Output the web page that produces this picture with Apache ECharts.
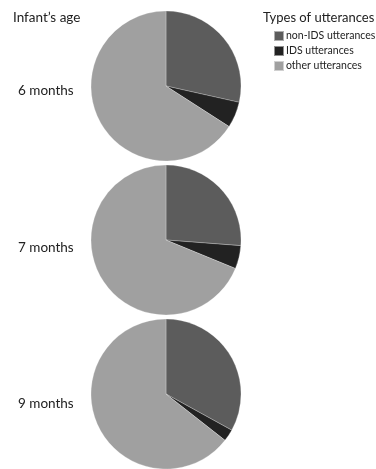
<!DOCTYPE html>
<html><head><meta charset="utf-8">
<script src="https://cdn.jsdelivr.net/npm/echarts@6/dist/echarts.min.js"></script>
<style>html,body{margin:0;padding:0;background:#fff}#c{width:376px;height:469px}</style>
</head><body><div id="c"></div>
<script>
const categories = ['non-IDS utterances', 'IDS utterances', 'other utterances'];
const ages = ['6 months', '7 months', '9 months'];
const pct6 = [28.5, 5.6, 65.9];
const pct7 = [26.2, 5.0, 68.8];
const pct9 = [33.0, 2.6, 64.4];
const colors = ['#5c5c5c', '#222222', '#a0a0a0'];

const allData = [pct6, pct7, pct9];
const centersY = [86, 240, 394];
const labelY = [92, 249, 405];
const font = 'Lato';

const chart = echarts.init(document.getElementById('c'), null, {renderer: 'canvas'});
chart.setOption({
  animation: false,
  color: colors,
  textStyle: {fontFamily: font},
  title: [
    {text: "Infant\u2019s age", left: 8, top: 6, textStyle: {fontFamily: font, fontSize: 13.5, fontWeight: 'normal', color: '#222'}},
    {text: 'Types of utterances', left: 258, top: 6, textStyle: {fontFamily: font, fontSize: 13, fontWeight: 'normal', color: '#222'}}
  ].concat(ages.map((a, i) => ({
    text: a, left: 13, top: labelY[i] - 13,
    textStyle: {fontFamily: font, fontSize: 13.5, fontWeight: 'normal', color: '#222'}
  }))),
  legend: {
    orient: 'vertical', left: 273, top: 30, padding: 0, itemWidth: 10, itemHeight: 10, itemGap: 3,
    icon: 'rect', data: categories,
    textStyle: {fontFamily: font, fontSize: 10.5, lineHeight: 10, color: '#222', padding: [0, 0, 0, -3]}
  },
  series: allData.map((d, i) => ({
    type: 'pie', center: [166, centersY[i]], radius: 75, startAngle: 90, clockwise: true,
    label: {show: false}, labelLine: {show: false}, silent: true,
    itemStyle: {borderColor: 'rgba(255,255,255,0.5)', borderWidth: 0.5},
    data: categories.map((c, j) => ({name: c, value: d[j]}))
  }))
});
</script></body></html>
